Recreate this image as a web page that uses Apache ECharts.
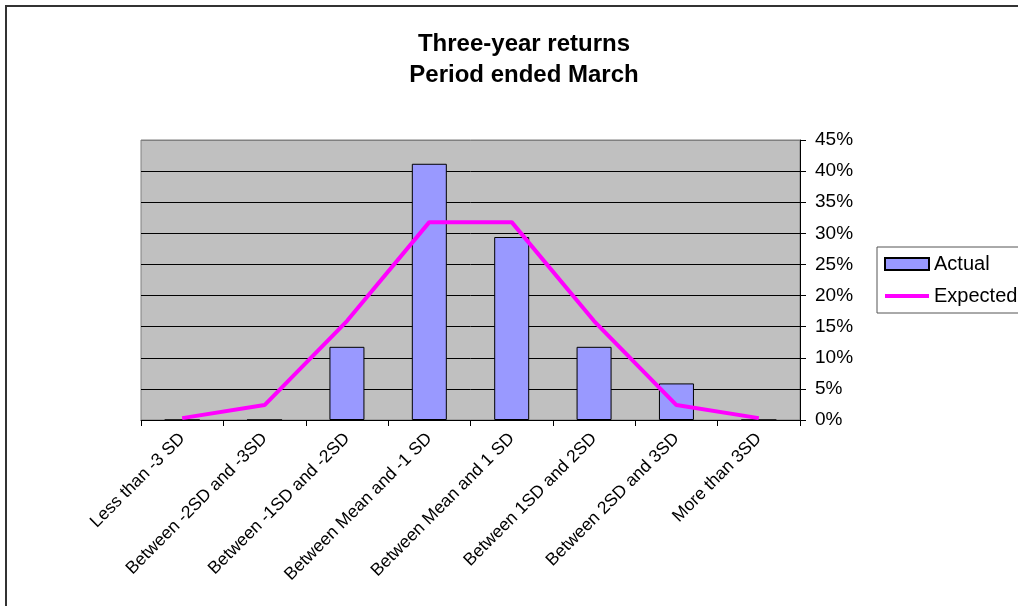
<!DOCTYPE html>
<html>
<head>
<meta charset="utf-8">
<title>Three-year returns</title>
<script src="https://cdn.jsdelivr.net/npm/echarts@6/dist/echarts.min.js"></script>
<style>
  html, body { margin: 0; padding: 0; background: #fff; }
  #chart { width: 1018px; height: 606px; }
</style>
</head>
<body>
<div id="chart"></div>
<script>
// Return buckets measured in standard deviations from the mean
const categories = [
  'Less than -3 SD',
  'Between -2SD and -3SD',
  'Between -1SD and -2SD',
  'Between Mean and -1 SD',
  'Between Mean and 1 SD',
  'Between 1SD and 2SD',
  'Between 2SD and 3SD',
  'More than 3SD'
];
// Share of periods (%) falling in each bucket
const actual = [0, 0, 11.76, 41.18, 29.41, 11.76, 5.88, 0];
// Share (%) expected under a normal distribution
const expected = [0.3, 2.4, 15.9, 31.8, 31.8, 15.9, 2.4, 0.3];
const yTicks = [0, 5, 10, 15, 20, 25, 30, 35, 40, 45];

const font = "'Liberation Sans', Arial, sans-serif";
const chart = echarts.init(document.getElementById('chart'));

chart.setOption({
  animation: false,
  textStyle: { fontFamily: font },
  title: {
    text: 'Three-year returns\nPeriod ended March',
    left: 519,
    textAlign: 'center',
    top: 24,
    textStyle: { fontFamily: font, fontSize: 24, fontWeight: 'bold', color: '#000', lineHeight: 31 }
  },
  graphic: [{
    type: 'rect',
    shape: { x: 6, y: 6, width: 1100, height: 700 },
    style: { fill: 'none', stroke: '#333', lineWidth: 2 },
    silent: true
  }],
  legend: {
    orient: 'vertical',
    left: 877,
    top: 247,
    padding: [7, 40, 7, 7],
    itemGap: 12,
    itemWidth: 44,
    itemHeight: 12,
    backgroundColor: '#fff',
    borderColor: '#555',
    borderWidth: 1,
    borderRadius: 0,
    textStyle: { fontFamily: font, fontSize: 20, color: '#000' },
    data: [
      { name: 'Actual', icon: 'rect' },
      { name: 'Expected', icon: 'path://M0,0 H46 V4 H0 Z' }
    ]
  },
  grid: {
    left: 141,
    right: 218,
    top: 140,
    bottom: 186,
    show: true,
    backgroundColor: '#C0C0C0',
    borderColor: '#808080',
    borderWidth: 1
  },
  xAxis: {
    type: 'category',
    data: categories,
    boundaryGap: true,
    axisLine: { lineStyle: { color: '#000', width: 1 } },
    axisTick: { show: true, length: 6, lineStyle: { color: '#000' } },
    axisLabel: {
      rotate: 45,
      interval: 0,
      margin: 16,
      fontSize: 17.5,
      color: '#000',
      fontFamily: font
    }
  },
  yAxis: {
    type: 'value',
    position: 'right',
    min: 0,
    max: 45,
    interval: 5,
    axisLine: { show: true, lineStyle: { color: '#000', width: 1 } },
    axisTick: { show: true, length: 6, lineStyle: { color: '#000' } },
    axisLabel: {
      margin: 15,
      fontSize: 19,
      color: '#000',
      fontFamily: font,
      formatter: v => (yTicks.includes(v) ? v + '%' : '')
    },
    splitLine: {
      show: true,
      lineStyle: {
        color: ['#000', '#000', '#000', '#000', '#000', '#000', '#000', '#000', '#000', '#808080'],
        width: 1
      }
    }
  },
  series: [
    {
      name: 'Actual',
      type: 'bar',
      data: actual,
      barWidth: 35,
      itemStyle: { color: '#9999FF', borderColor: '#000', borderWidth: 1 }
    },
    {
      name: 'Expected',
      type: 'line',
      data: expected,
      symbol: 'none',
      lineStyle: { color: '#FF00FF', width: 4 },
      itemStyle: { color: '#FF00FF' },
      z: 3
    }
  ]
});
</script>
</body>
</html>
